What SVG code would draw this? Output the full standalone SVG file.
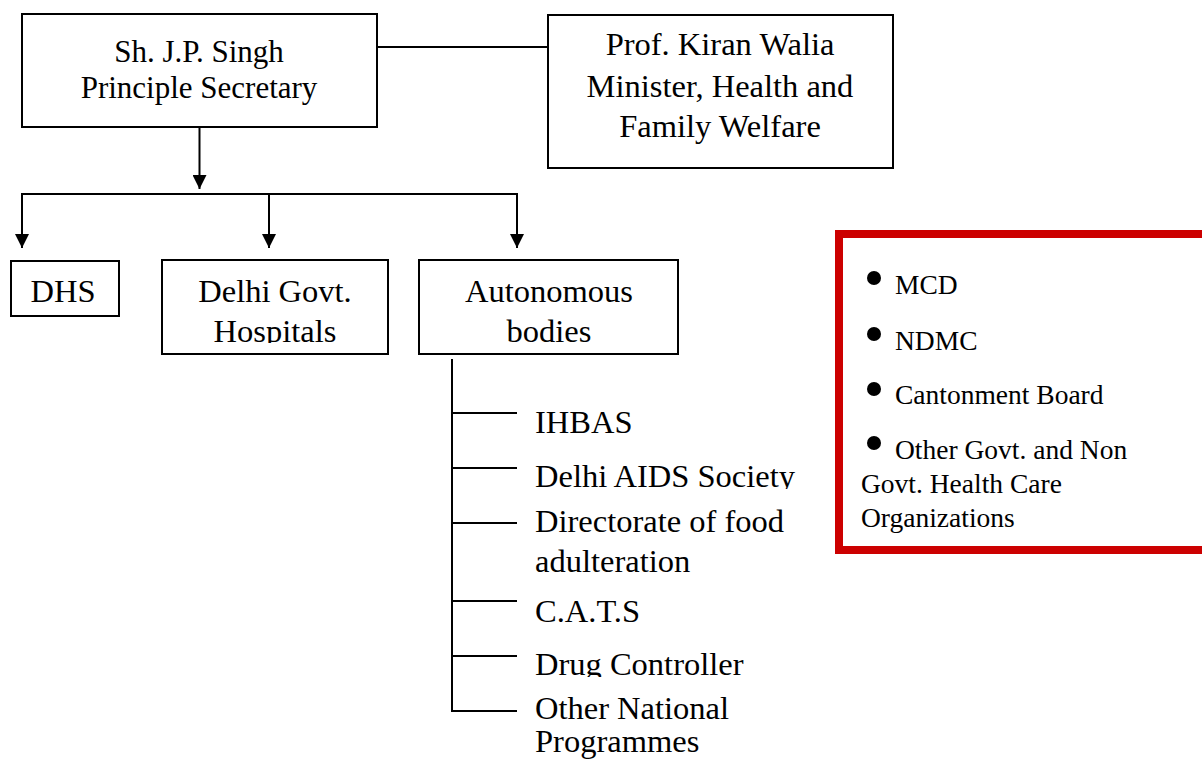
<svg xmlns="http://www.w3.org/2000/svg" width="1202" height="761" viewBox="0 0 1202 761">
  <style>
    .box { fill: #ffffff; stroke: #000000; stroke-width: 2; }
    .t { font-family: "Liberation Serif", "Times New Roman", serif; font-size: 32.5px; fill: #000000; }
    .t1 { font-size: 31px; }
    .tc { text-anchor: middle; }
    .s { font-family: "Liberation Serif", "Times New Roman", serif; font-size: 27.5px; fill: #000000; }
    .ln { stroke: #000000; stroke-width: 2; fill: none; }
    .red { fill: none; stroke: #cc0000; stroke-width: 8; }
  </style>
  <defs>
    <marker id="arr" markerUnits="userSpaceOnUse" markerWidth="14" markerHeight="14" refX="14" refY="7" orient="auto">
      <path d="M0,0 L14,7 L0,14 Z" fill="#000000"/>
    </marker>
    <clipPath id="clipHosp"><rect x="160" y="300" width="230" height="43"/></clipPath>
    <clipPath id="clipAids"><rect x="530" y="440" width="300" height="49"/></clipPath>
    <clipPath id="clipDrug"><rect x="530" y="630" width="300" height="47"/></clipPath>
  </defs>
  <rect width="1202" height="761" fill="#ffffff"/>

  <g id="connectors">
    <line class="ln" x1="377" y1="47" x2="548" y2="47"/>
    <line class="ln" x1="199.5" y1="127" x2="199.5" y2="189" marker-end="url(#arr)"/>
    <line class="ln" x1="21" y1="194" x2="518" y2="194"/>
    <line class="ln" x1="22" y1="194" x2="22" y2="248" marker-end="url(#arr)"/>
    <line class="ln" x1="269" y1="194" x2="269" y2="248" marker-end="url(#arr)"/>
    <line class="ln" x1="517" y1="194" x2="517" y2="248" marker-end="url(#arr)"/>
    <line class="ln" x1="452" y1="359" x2="452" y2="712"/>
    <line class="ln" x1="452" y1="413" x2="517" y2="413"/>
    <line class="ln" x1="452" y1="468" x2="517" y2="468"/>
    <line class="ln" x1="452" y1="523" x2="517" y2="523"/>
    <line class="ln" x1="452" y1="601" x2="517" y2="601"/>
    <line class="ln" x1="452" y1="656" x2="517" y2="656"/>
    <line class="ln" x1="451" y1="711" x2="517" y2="711"/>
  </g>

  <g id="node-singh">
    <rect class="box" x="22" y="14" width="355" height="113"/>
    <text class="t t1 tc" x="199" y="62">Sh. J.P. Singh</text>
    <text class="t t1 tc" x="199" y="98">Principle Secretary</text>
  </g>

  <g id="node-walia">
    <rect class="box" x="548" y="15" width="345" height="153"/>
    <text class="t tc" x="720" y="55">Prof. Kiran Walia</text>
    <text class="t tc" x="720" y="97">Minister, Health and</text>
    <text class="t tc" x="720" y="137">Family Welfare</text>
  </g>

  <g id="node-dhs">
    <rect class="box" x="11" y="261" width="108" height="55"/>
    <text class="t tc" x="63" y="302">DHS</text>
  </g>

  <g id="node-hospitals">
    <rect class="box" x="162" y="260" width="226" height="94"/>
    <text class="t tc" x="275" y="302">Delhi Govt.</text>
    <text class="t tc" x="275" y="342" clip-path="url(#clipHosp)">Hospitals</text>
  </g>

  <g id="node-autonomous">
    <rect class="box" x="419" y="260" width="259" height="94"/>
    <text class="t tc" x="549" y="302">Autonomous</text>
    <text class="t tc" x="549" y="342">bodies</text>
  </g>

  <g id="node-ihbas">
    <text class="t" x="535" y="433">IHBAS</text>
  </g>
  <g id="node-aids">
    <text class="t" x="535" y="487" clip-path="url(#clipAids)">Delhi AIDS Society</text>
  </g>
  <g id="node-food">
    <text class="t" x="535" y="532">Directorate of food</text>
    <text class="t" x="535" y="572">adulteration</text>
  </g>
  <g id="node-cats">
    <text class="t" x="535" y="622">C.A.T.S</text>
  </g>
  <g id="node-drug">
    <text class="t" x="535" y="675" clip-path="url(#clipDrug)">Drug Controller</text>
  </g>
  <g id="node-other">
    <text class="t" x="535" y="719">Other National</text>
    <text class="t" x="535" y="752">Programmes</text>
  </g>

  <g id="node-others-box">
    <rect class="red" x="839" y="234" width="380" height="316"/>
    <circle cx="874" cy="278" r="7"/>
    <text class="s" x="895" y="294">MCD</text>
    <circle cx="874" cy="334" r="7"/>
    <text class="s" x="895" y="350">NDMC</text>
    <circle cx="874" cy="389" r="7"/>
    <text class="s" x="895" y="404">Cantonment Board</text>
    <circle cx="874" cy="443" r="7"/>
    <text class="s" x="895" y="459">Other Govt. and Non</text>
    <text class="s" x="861" y="493">Govt. Health Care</text>
    <text class="s" x="861" y="527">Organizations</text>
  </g>
</svg>
